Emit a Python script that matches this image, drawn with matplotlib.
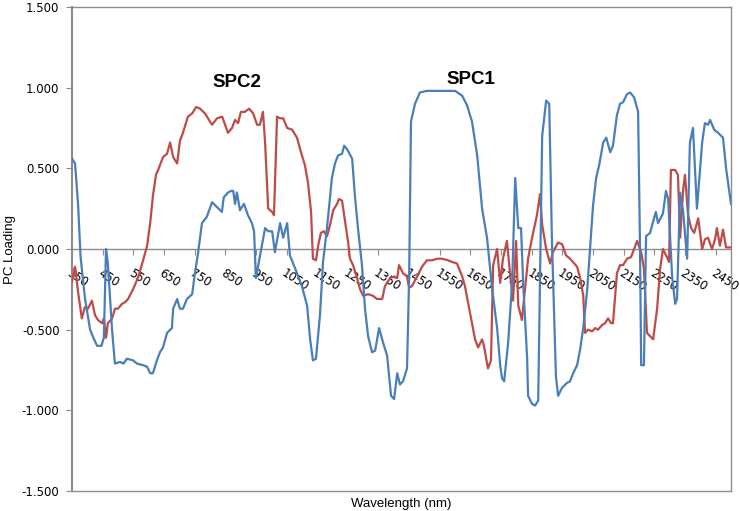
import matplotlib
matplotlib.use("Agg")
import matplotlib.pyplot as plt
from matplotlib.ticker import FormatStrFormatter

# SPC1 loading (blue), wavelength in nm
wl_spc1 = [350, 360, 370, 378, 392, 409, 422, 432, 446, 454, 461, 467, 481, 490,
           507, 518, 529, 549, 562, 582, 595, 605, 614, 627, 637, 647, 660, 676,
           680, 693, 702, 712, 725, 742, 751, 761, 774, 790, 807, 823, 839, 845,
           859, 869, 876, 882, 888, 898, 911, 924, 937, 944, 950, 980, 990, 1003,
           1012, 1029, 1039, 1052, 1061, 1078, 1100, 1117, 1127, 1136, 1146, 1159,
           1169, 1182, 1198, 1208, 1218, 1231, 1238, 1247, 1264, 1273, 1283, 1296,
           1306, 1316, 1329, 1339, 1352, 1365, 1378, 1391, 1401, 1411, 1420, 1430,
           1443, 1450, 1456, 1469, 1485, 1508, 1540, 1583, 1600, 1623, 1639, 1655,
           1672, 1688, 1704, 1721, 1737, 1747, 1753, 1760, 1773, 1786, 1796, 1806,
           1815, 1822, 1835, 1838, 1851, 1861, 1871, 1877, 1884, 1897, 1907, 1916,
           1929, 1936, 1949, 1965, 1975, 1985, 1998, 2008, 2018, 2031, 2040, 2050,
           2060, 2070, 2083, 2093, 2106, 2115, 2128, 2138, 2148, 2161, 2171, 2184,
           2197, 2203, 2207, 2216, 2223, 2236, 2246, 2255, 2262, 2278, 2288, 2295,
           2308, 2318, 2324, 2334, 2344, 2357, 2366, 2376, 2389, 2406, 2415, 2425,
           2432, 2445, 2458, 2474, 2484, 2500]
spc1 = [0.56, 0.53, 0.27, -0.05, -0.30, -0.50, -0.56, -0.60, -0.60, -0.55, 0.00,
        -0.09, -0.51, -0.71, -0.70, -0.71, -0.68, -0.69, -0.71, -0.72, -0.73, -0.77,
        -0.77, -0.69, -0.64, -0.61, -0.52, -0.49, -0.37, -0.31, -0.37, -0.37, -0.31,
        -0.28, -0.15, -0.03, 0.16, 0.20, 0.29, 0.26, 0.23, 0.32, 0.35, 0.36, 0.36,
        0.28, 0.35, 0.24, 0.28, 0.21, 0.16, 0.11, -0.18, 0.13, 0.11, 0.11, -0.02,
        0.16, 0.07, 0.16, -0.04, -0.12, -0.23, -0.35, -0.56, -0.69, -0.68, -0.41,
        -0.08, 0.13, 0.44, 0.53, 0.58, 0.59, 0.64, 0.62, 0.56, 0.33, 0.13, -0.10,
        -0.37, -0.54, -0.64, -0.63, -0.49, -0.58, -0.66, -0.91, -0.93, -0.77, -0.84,
        -0.82, -0.74, -0.17, 0.79, 0.90, 0.97, 0.98, 0.98, 0.98, 0.98, 0.95, 0.89,
        0.79, 0.58, 0.25, 0.07, -0.25, -0.49, -0.72, -0.80, -0.82, -0.58, -0.21,
        0.44, 0.13, 0.13, -0.21, -0.68, -0.91, -0.96, -0.97, -0.94, -0.17, 0.70,
        0.92, 0.90, 0.04, -0.79, -0.91, -0.86, -0.83, -0.82, -0.77, -0.72, -0.62,
        -0.49, -0.25, 0.00, 0.27, 0.44, 0.52, 0.66, 0.69, 0.60, 0.64, 0.83, 0.90,
        0.91, 0.96, 0.97, 0.94, 0.85, 0.04, -0.72, -0.72, 0.08, 0.10, 0.17, 0.23,
        0.16, 0.22, 0.36, 0.31, -0.17, -0.34, -0.31, 0.35, 0.23, -0.06, 0.66, 0.75,
        0.25, 0.66, 0.78, 0.77, 0.80, 0.74, 0.72, 0.69, 0.50, 0.28]

# SPC2 loading (red)
wl_spc2 = [350, 360, 370, 382, 392, 402, 415, 425, 435, 448, 454, 461, 467, 481,
           490, 500, 513, 523, 533, 549, 565, 582, 595, 605, 614, 624, 631, 647,
           660, 670, 680, 693, 702, 712, 728, 742, 755, 768, 784, 807, 823, 840,
           859, 872, 882, 892, 901, 914, 928, 941, 954, 963, 973, 980, 990, 1003,
           1009, 1019, 1029, 1039, 1052, 1068, 1084, 1100, 1110, 1120, 1130, 1136,
           1146, 1153, 1162, 1172, 1182, 1192, 1202, 1215, 1221, 1231, 1241, 1251,
           1257, 1267, 1280, 1290, 1300, 1316, 1332, 1345, 1362, 1371, 1388, 1401,
           1411, 1417, 1430, 1443, 1450, 1459, 1476, 1492, 1508, 1525, 1541, 1557,
           1577, 1590, 1606, 1623, 1632, 1642, 1655, 1665, 1675, 1688, 1694, 1707,
           1717, 1724, 1737, 1747, 1756, 1769, 1779, 1789, 1799, 1806, 1818, 1828,
           1838, 1851, 1867, 1877, 1884, 1897, 1910, 1919, 1936, 1949, 1962, 1975,
           1998, 2008, 2018, 2024, 2034, 2047, 2057, 2066, 2080, 2089, 2099, 2109,
           2115, 2128, 2138, 2148, 2161, 2174, 2184, 2194, 2207, 2216, 2226, 2236,
           2246, 2259, 2269, 2278, 2291, 2298, 2304, 2318, 2327, 2334, 2344, 2350,
           2360, 2370, 2380, 2393, 2406, 2415, 2425, 2438, 2448, 2454, 2464, 2474,
           2484, 2500]
spc2 = [-0.20, -0.11, -0.27, -0.43, -0.36, -0.37, -0.32, -0.41, -0.44, -0.46,
        -0.43, -0.55, -0.46, -0.43, -0.37, -0.37, -0.34, -0.33, -0.31, -0.25, -0.18,
        -0.07, 0.02, 0.16, 0.33, 0.46, 0.49, 0.57, 0.59, 0.66, 0.57, 0.53, 0.67,
        0.72, 0.82, 0.84, 0.88, 0.87, 0.84, 0.77, 0.81, 0.82, 0.72, 0.75, 0.80,
        0.78, 0.85, 0.85, 0.87, 0.84, 0.77, 0.77, 0.85, 0.66, 0.25, 0.23, 0.21,
        0.82, 0.81, 0.81, 0.75, 0.74, 0.69, 0.58, 0.52, 0.41, 0.23, -0.06, -0.07,
        0.02, 0.10, 0.11, 0.08, 0.15, 0.24, 0.28, 0.31, 0.30, 0.17, 0.04, -0.06,
        -0.10, -0.18, -0.25, -0.29, -0.28, -0.29, -0.31, -0.31, -0.23, -0.18, -0.17,
        -0.18, -0.10, -0.15, -0.17, -0.24, -0.23, -0.17, -0.11, -0.07, -0.07, -0.06,
        -0.06, -0.07, -0.08, -0.09, -0.17, -0.23, -0.33, -0.46, -0.56, -0.61, -0.56,
        -0.60, -0.74, -0.69, -0.10, 0.00, -0.21, -0.06, 0.05, -0.15, -0.32, 0.05,
        -0.35, -0.44, -0.25, -0.06, 0.07, 0.21, 0.34, 0.15, 0.00, -0.09, -0.02,
        0.04, 0.03, -0.04, -0.06, -0.11, -0.18, -0.29, -0.52, -0.50, -0.51, -0.49,
        -0.50, -0.47, -0.46, -0.43, -0.46, -0.46, -0.15, -0.10, -0.10, -0.06, -0.05,
        0.00, 0.05, -0.02, -0.12, -0.52, -0.54, -0.56, -0.37, -0.12, 0.00, -0.05,
        -0.08, 0.49, 0.49, 0.46, 0.07, 0.37, 0.46, 0.21, 0.13, 0.10, 0.19, 0.00,
        0.06, 0.07, 0.00, 0.06, 0.13, 0.02, 0.12, 0.01, 0.01]

x_ticks = list(range(350, 2451, 100))
x_labels = [str(t) for t in x_ticks]
y_ticks = [-1.5, -1.0, -0.5, 0.0, 0.5, 1.0, 1.5]

grey = "#8c8c8c"

fig = plt.figure(figsize=(7.4, 5.11), dpi=100)
ax = fig.add_axes([0.0973, 0.0391, 0.8905, 0.9472])

ax.plot(wl_spc2, spc2, color="#be4b48", lw=1.6, zorder=3)
ax.plot(wl_spc1, spc1, color="#4a7ebb", lw=1.6, zorder=4)

ax.set_xlim(350, 2500)
ax.set_ylim(-1.5, 1.5)

for s in ax.spines.values():
    s.set_color(grey)
    s.set_linewidth(1.0)
ax.spines["left"].set_linewidth(1.5)

# y axis
ax.set_yticks(y_ticks)
ax.yaxis.set_major_formatter(FormatStrFormatter("%.3f"))
ax.tick_params(axis="y", direction="out", length=4, color=grey, pad=5,
               labelsize=8.5, labelcolor="black")
ax.set_ylabel("PC Loading", fontsize=9.5, family="Liberation Sans", labelpad=4)

# x axis drawn through zero, labels hanging below it
ax.set_xticks([])
ax.axhline(0, color=grey, lw=1.0, zorder=2)
secx = ax.secondary_xaxis(0.5)
secx.set_alignment("bottom")
secx.spines["bottom"].set_visible(False)
secx.spines["top"].set_visible(False)
secx.set_xticks(x_ticks, labels=x_labels, rotation=-33, ha="left", va="top",
                rotation_mode="anchor", fontsize=8.5)
secx.tick_params(direction="out", length=4, color=grey, pad=9)

ax.set_xlabel("Wavelength (nm)", fontsize=9.5, family="Liberation Sans", labelpad=5)

ax.text(888, 1.03, "SPC2", fontsize=13.5, fontweight="bold",
        family="Liberation Sans", ha="center", va="center")
ax.text(1652, 1.05, "SPC1", fontsize=13.5, fontweight="bold",
        family="Liberation Sans", ha="center", va="center")

fig.savefig("out.png", dpi=100)
